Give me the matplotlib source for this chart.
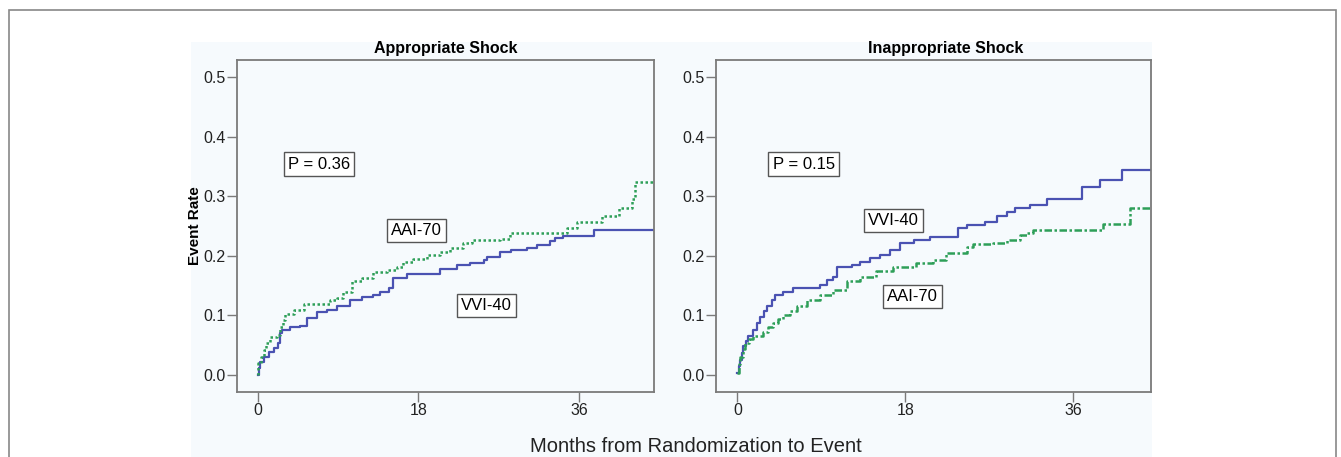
import numpy as np
import matplotlib.pyplot as plt
from matplotlib.patches import Rectangle

plt.rcParams['font.family'] = ['Liberation Sans', 'DejaVu Sans']

# Appropriate shock (left panel) - step curves, months vs cumulative event rate
app_vvi_t = [0, 0.11, 0.3, 0.67, 1.23, 1.79, 2.24, 2.54, 2.72, 3.66, 4.78, 5.52, 6.64, 7.76,
             8.88, 10.37, 11.67, 12.97, 13.72, 14.65, 15.2, 16.7, 20.4, 22.3, 23.8, 25.3,
             25.7, 27.1, 28.3, 30.1, 31.3, 32.7, 33.3, 34.2, 37.6, 44.35]
app_vvi_v = [0, 0.011, 0.022, 0.031, 0.039, 0.046, 0.053, 0.07, 0.075, 0.081, 0.083, 0.095,
             0.106, 0.109, 0.116, 0.126, 0.131, 0.134, 0.14, 0.146, 0.162, 0.17, 0.178,
             0.185, 0.188, 0.193, 0.198, 0.207, 0.21, 0.213, 0.218, 0.224, 0.23, 0.233,
             0.243, 0.243]
app_aai_t = [0, 0.1, 0.35, 0.67, 1.0, 1.42, 2.17, 2.54, 2.8, 3.1, 4.03, 5.14, 8.13, 8.88,
             9.6, 10.55, 11.67, 12.97, 14.46, 15.58, 16.3, 17.44, 18.9, 20.4, 21.5, 23.0,
             24.0, 27.1, 28.25, 34.6, 35.7, 38.5, 40.4, 41.9, 42.2, 44.35]
app_aai_v = [0, 0.02, 0.03, 0.042, 0.053, 0.064, 0.067, 0.08, 0.092, 0.103, 0.109, 0.119,
             0.126, 0.129, 0.14, 0.157, 0.162, 0.173, 0.176, 0.182, 0.19, 0.195, 0.201,
             0.207, 0.213, 0.221, 0.226, 0.229, 0.238, 0.246, 0.256, 0.266, 0.28, 0.296,
             0.324, 0.324]

# Inappropriate shock (right panel)
inapp_vvi_t = [0, 0.15, 0.29, 0.45, 0.64, 0.9, 1.18, 1.71, 2.1, 2.43, 2.8, 3.15, 3.68, 4.04,
               4.93, 6.0, 8.86, 9.57, 10.3, 10.65, 12.25, 13.15, 14.2, 15.3, 16.4, 17.4,
               18.9, 20.6, 23.7, 24.6, 26.5, 27.8, 28.9, 29.75, 31.4, 33.15, 36.9, 38.9,
               41.2, 44.3]
inapp_vvi_v = [0.003, 0.015, 0.026, 0.037, 0.048, 0.057, 0.066, 0.076, 0.087, 0.098, 0.107,
               0.116, 0.126, 0.134, 0.14, 0.146, 0.151, 0.16, 0.165, 0.182, 0.185, 0.19,
               0.196, 0.201, 0.21, 0.221, 0.227, 0.232, 0.246, 0.252, 0.257, 0.266, 0.274,
               0.28, 0.285, 0.296, 0.316, 0.327, 0.344, 0.344]
inapp_aai_t = [0, 0.15, 0.29, 0.55, 0.82, 1.25, 1.71, 2.79, 3.3, 3.86, 4.4, 4.93, 5.6, 6.36,
               7.43, 8.86, 10.3, 11.7, 13.15, 14.9, 16.7, 19.2, 21.0, 22.4, 24.6, 25.3,
               27.4, 28.9, 30.3, 31.0, 31.7, 39.2, 42.1, 44.3]
inapp_aai_v = [0.003, 0.018, 0.031, 0.043, 0.054, 0.06, 0.065, 0.073, 0.08, 0.087, 0.094,
               0.101, 0.108, 0.115, 0.126, 0.134, 0.143, 0.157, 0.165, 0.174, 0.182, 0.188,
               0.193, 0.204, 0.215, 0.22, 0.221, 0.227, 0.235, 0.238, 0.243, 0.254, 0.28,
               0.28]

titles = ['Appropriate Shock', 'Inappropriate Shock']
p_labels = ['P = 0.36', 'P = 0.15']
xticks = [0, 18, 36]
yticks = [0.0, 0.1, 0.2, 0.3, 0.4, 0.5]

BLUE = '#4a52b2'
GREEN = '#2e9f58'
BG = '#f6fafd'
SPINE = '#7a7a7a'

W, H = 1341, 457
fig = plt.figure(figsize=(W / 100, H / 100), dpi=100)
fig.patch.set_facecolor('white')

# outer frame and light panel background
fig.add_artist(Rectangle((9 / W, -0.05), (1336 - 9) / W, 1 - 10 / H + 0.05,
                         transform=fig.transFigure, fill=False, edgecolor='#888888', lw=1.2))
fig.add_artist(Rectangle((191 / W, 0), (1152 - 191) / W, 1 - 42 / H,
                         transform=fig.transFigure, facecolor=BG, edgecolor='none', zorder=0))

ax1 = fig.add_axes([237 / W, 1 - 392 / H, (654 - 237) / W, (392 - 60) / H])
ax2 = fig.add_axes([716 / W, 1 - 392 / H, (1151 - 716) / W, (392 - 60) / H])

ax1.step(app_vvi_t, app_vvi_v, where='post', color=BLUE, lw=1.6)
ax1.step(app_aai_t, app_aai_v, where='post', color=GREEN, lw=1.8, linestyle=(0, (1, 1)))
ax2.step(inapp_vvi_t, inapp_vvi_v, where='post', color=BLUE, lw=1.6)
ax2.step(inapp_aai_t, inapp_aai_v, where='post', color=GREEN, lw=1.8, linestyle=(0, (3, 1, 1, 1)))

box = dict(boxstyle='square,pad=0.25', facecolor='white', edgecolor='#555555', lw=1)
fs = 12
ax1.text(6.9, 0.354, p_labels[0], ha='center', va='center', fontsize=fs, bbox=box)
ax1.text(17.8, 0.243, 'AAI-70', ha='center', va='center', fontsize=fs, bbox=box)
ax1.text(25.6, 0.117, 'VVI-40', ha='center', va='center', fontsize=fs, bbox=box)
ax2.text(7.1, 0.354, p_labels[1], ha='center', va='center', fontsize=fs, bbox=box)
ax2.text(16.7, 0.259, 'VVI-40', ha='center', va='center', fontsize=fs, bbox=box)
ax2.text(18.8, 0.132, 'AAI-70', ha='center', va='center', fontsize=fs, bbox=box)

title_x = [0.5, 0.527]
for ax, title, tx in zip([ax1, ax2], titles, title_x):
    ax.set_facecolor(BG)
    ax.set_xlim(-2.3, 44.35)
    ax.set_ylim(-0.0285, 0.5285)
    ax.set_xticks(xticks)
    ax.set_yticks(yticks)
    ax.set_yticklabels([f'{v:.1f}' for v in yticks])
    ax.tick_params(colors=SPINE, labelcolor='#222222', labelsize=11.5, length=7, width=1, pad=1)
    for s in ax.spines.values():
        s.set_color(SPINE)
        s.set_linewidth(1.3)
    ax.text(tx, 1.012, title, transform=ax.transAxes, ha='center', va='bottom',
            fontsize=11.5, fontweight='bold')

ax1.set_ylabel('Event Rate', fontsize=11, fontweight='bold', labelpad=1)
fig.text(696 / W, 1 - 447 / H, 'Months from Randomization to Event', ha='center', va='center',
         fontsize=14.5, color='#222222')

fig.savefig('out.png', dpi=100)
